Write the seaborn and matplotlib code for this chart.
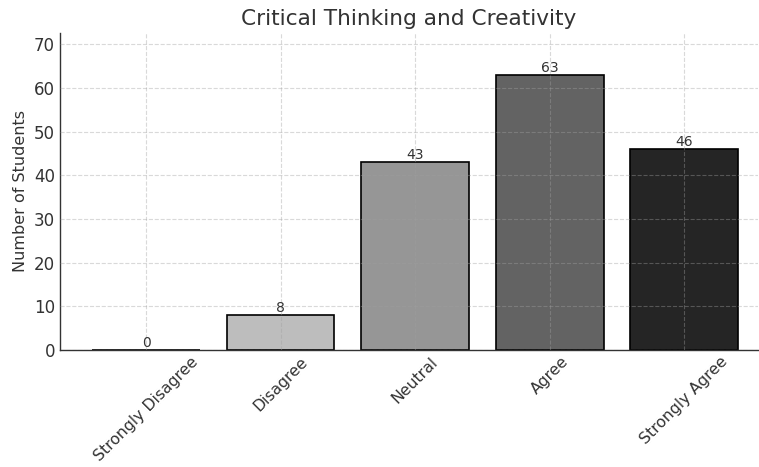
import matplotlib
matplotlib.use("Agg")
import matplotlib.pyplot as plt
import seaborn as sns
import pandas as pd

categories = ["Strongly Disagree", "Disagree", "Neutral", "Agree", "Strongly Agree"]
counts = [0, 8, 43, 63, 46]
bar_colors = ["#d9d9d9", "#bdbdbd", "#969696", "#636363", "#252525"]

sns.set_theme(style="white")
plt.rcParams["font.family"] = ["DejaVu Sans"]
text_color = "#333333"

df = pd.DataFrame({"Response": categories, "Students": counts})

fig = plt.figure(figsize=(7.59, 4.67), dpi=100)
ax = fig.add_axes([0.079, 0.2505, 0.92, 0.679])

sns.barplot(data=df, x="Response", y="Students", hue="Response",
            palette=bar_colors, legend=False, width=0.8,
            edgecolor="black", linewidth=1.2, saturation=1, ax=ax)

for container in ax.containers:
    ax.bar_label(container, fontsize=10, color=text_color, padding=0)

ax.set_xlim(-0.64, 4.55)
ax.set_ylim(0, 72.6)
ax.set_yticks(range(0, 71, 10))

ax.grid(True, color="#a0a0a0", alpha=0.4, linestyle="--", linewidth=0.8)
ax.set_axisbelow(False)

for side in ["top", "right"]:
    ax.spines[side].set_visible(False)
for side in ["left", "bottom"]:
    ax.spines[side].set_color(text_color)
    ax.spines[side].set_linewidth(1.0)

ax.tick_params(axis="both", direction="in", length=4, color=text_color,
               labelcolor=text_color)
ax.tick_params(axis="y", labelsize=12)
ax.tick_params(axis="x", labelsize=11.3, pad=3)
plt.setp(ax.get_xticklabels(), rotation=45, ha="center")

ax.set_title("Critical Thinking and Creativity", fontsize=15.6, color=text_color, pad=6)
ax.set_xlabel("")
ax.set_ylabel("Number of Students", fontsize=11.5, color=text_color)

fig.savefig("out.png", dpi=100)
